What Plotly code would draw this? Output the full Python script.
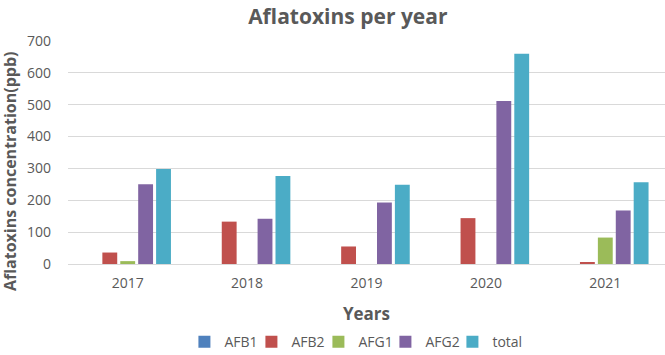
import plotly.graph_objects as go

years = ["2017", "2018", "2019", "2020", "2021"]
afb1 = [0, 0, 0, 0, 0]
afb2 = [36, 133, 55, 144, 6]
afg1 = [9, 0, 0, 0, 83]
afg2 = [250, 142, 193, 512, 168]
total = [298, 276, 249, 660, 257]

series = [
    ("AFB1", afb1, "#4F81BD"),
    ("AFB2", afb2, "#C0504D"),
    ("AFG1", afg1, "#9BBB59"),
    ("AFG2", afg2, "#8064A2"),
    ("total", total, "#4BACC6"),
]

fig = go.Figure()
for name, vals, col in series:
    fig.add_trace(go.Bar(x=years, y=vals, name=name, marker_color=col,
                         marker_line_width=0))
# invisible spacer legend entry so the last legend label is not clipped
fig.add_trace(go.Scatter(x=[None], y=[None], mode="markers", name=" ",
                         marker=dict(color="rgba(0,0,0,0)", size=1,
                                     line=dict(width=0)),
                         hoverinfo="skip"))

font_fam = "Open Sans, Lato, sans-serif"
fig.update_layout(
    width=665, height=355,
    margin=dict(l=68, r=0, t=41, b=91, autoexpand=False),
    paper_bgcolor="white", plot_bgcolor="white",
    barmode="group", bargap=0.25, bargroupgap=0.17,
    font=dict(family=font_fam, color="#595959", size=13),
    title=dict(text="<b>Aflatoxins per year</b>", x=0.523, xanchor="center",
               y=0.952, yanchor="middle", font=dict(size=21, color="#595959")),
    legend=dict(orientation="h", x=0.195, xanchor="left", y=-0.35,
                yanchor="middle", font=dict(size=14, color="#595959"),
                itemwidth=30, entrywidth=22, tracegroupgap=0),
    showlegend=True,
    annotations=[dict(text="<b>Aflatoxins concentration(ppb)</b>", textangle=-90,
                      xref="paper", yref="paper", x=-0.097, xanchor="center",
                      y=(264 - 171) / 223, yanchor="middle", showarrow=False,
                      font=dict(size=16, color="#595959"))],
)
fig.update_xaxes(showgrid=False, showline=False, ticks="", ticklabelstandoff=9,
                 title=dict(text="<b>Years</b>", font=dict(size=17, color="#595959"), standoff=17),
                 tickfont=dict(size=14, color="#595959"))
fig.update_yaxes(range=[0, 700], dtick=100, showgrid=True, gridcolor="#D9D9D9",
                 gridwidth=1, zeroline=True, zerolinecolor="#D9D9D9", zerolinewidth=1,
                 showline=False, ticks="", ticklabelstandoff=16,
                 tickfont=dict(size=14, color="#595959"))

fig.write_html("out.html", config={"displayModeBar": False},
               post_script="document.body.style.margin='0px';")
